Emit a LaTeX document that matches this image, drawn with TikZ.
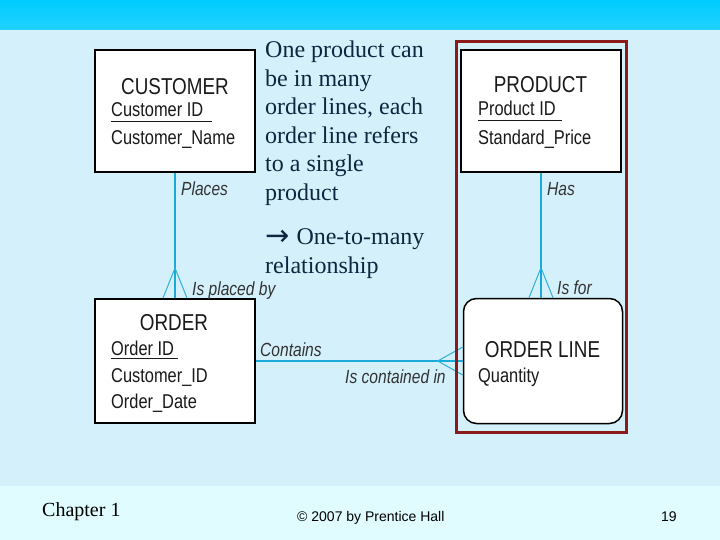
\documentclass[tikz,border=0pt]{standalone}
\usepackage{fontspec}
\setmainfont{Liberation Serif}
\newfontfamily\erdfont[FakeStretch=0.82]{Liberation Sans}
\newfontfamily\arialfont{Liberation Sans}
\newfontfamily\symfont{DejaVu Sans}
\definecolor{bandtop}{HTML}{00CCFF}
\definecolor{bandbot}{HTML}{22D2FF}
\definecolor{mainbg}{HTML}{D4F0FB}
\definecolor{footbg}{HTML}{E0FCFF}
\definecolor{relline}{HTML}{1AAAD8}
\definecolor{crowline}{HTML}{2AB0DA}
\definecolor{framered}{HTML}{8B1A1A}
\definecolor{navy}{HTML}{0F2640}
\definecolor{lbl}{HTML}{333333}
\definecolor{attr}{HTML}{1A1A1A}
\tikzset{
  entity/.style={draw=black, fill=white, line width=2pt, minimum width=160pt, inner sep=0pt},
  title/.style={anchor=base, inner sep=0pt, text=attr, font=\erdfont\fontsize{23}{23}\selectfont},
  attrib/.style={anchor=base west, inner sep=0pt, text=attr, font=\erdfont\fontsize{20}{20}\selectfont},
  rlabel/.style={anchor=base west, inner sep=0pt, text=lbl, font=\erdfont\itshape\fontsize{19}{19}\selectfont},
  rel/.style={draw=relline, line width=2pt},
  crow/.style={draw=crowline, line width=1pt},
  body/.style={anchor=base west, inner sep=0pt, text=navy, font=\fontsize{24}{28.7}\selectfont},
  pkey/.style={draw=attr, line width=1pt}
}
\begin{document}
\begin{tikzpicture}[x=1pt,y=-1pt]
\useasboundingbox (0,0) rectangle (720,540);
\fill[mainbg] (0,0) rectangle (720,540);
\shade[top color=bandtop,bottom color=bandbot] (0,0) rectangle (720,30);
\fill[footbg] (0,486) rectangle (720,540);

% entities
\node[entity, minimum height=122pt] (cust) at (175,111.5) {};
\node[entity, minimum height=122pt] (prod) at (541,111.5) {};
\node[entity, minimum height=124pt] (ord) at (175,361) {};
\node[entity, line width=1.5pt, minimum width=159pt, minimum height=125pt, rounded corners=13pt] (ol) at (543,361) {};

% entity texts
\node[title] (custT) at (175,95) {CUSTOMER};
\node[attrib] (custA1) at (111,117) {Customer ID};
\draw[pkey] (111,121.5) -- (212,121.5);
\node[attrib] (custA2) at (111,145) {Customer\_Name};

\node[title] (prodT) at (540.5,93) {PRODUCT};
\node[attrib] (prodA1) at (478,116) {Product ID};
\draw[pkey] (478,120.5) -- (562,120.5);
\node[attrib] (prodA2) at (478,145) {Standard\_Price};

\node[title] (ordT) at (174,330) {ORDER};
\node[attrib] (ordA1) at (111,355) {Order ID};
\draw[pkey] (111,358.5) -- (178,358.5);
\node[attrib] (ordA2) at (111,382) {Customer\_ID};
\node[attrib] (ordA3) at (111,408) {Order\_Date};

\node[title] (olT) at (542.5,357) {ORDER LINE};
\node[attrib] (olA1) at (478,382) {Quantity};

% relationships
\draw[rel] (cust.south) -- (ord.north);
\draw[crow] (ord.north) ++(-12,0) -- ++(12,-30) -- ++(12,30);
\draw[rel] (prod.south) -- (prod.south |- ol.north);
\draw[crow] (prod.south |- ol.north) ++(-12,0) -- ++(12,-30) -- ++(12,30);
\draw[rel] (ord.east) -- (ord.east -| ol.west);
\draw[crow] (ol.west) ++(0,-14) -- ++(-25,14) -- ++(25,14);

% relationship labels
\node[rlabel] (l1) at (181,196) {Places};
\node[rlabel] (l2) at (192,295) {Is placed by};
\node[rlabel] (l3) at (547,196) {Has};
\node[rlabel] (l4) at (557,294) {Is for};
\node[rlabel] (l5) at (260,356) {Contains};
\node[rlabel] (l6) at (345,383) {Is contained in};

% highlight frame
\draw[framered, line width=3pt] (456.5,41.5) rectangle (626.5,432.5);

% explanatory text
\node[body] (t1) at (265,57.7) {One product can};
\node[body] (t2) at (265,86.5) {be in many};
\node[body] (t3) at (265,115) {order lines, each};
\node[body] (t4) at (265,143.5) {order line refers};
\node[body] (t5) at (265,172) {to a single};
\node[body] (t6) at (265,200.7) {product};
\node[body] (t7) at (265,244.3) {\raisebox{-1pt}{\symfont\fontsize{29}{29}\selectfont →}\hspace{7pt}One-to-many};
\node[body] (t8) at (265,273) {relationship};

% footer
\node[anchor=base west, inner sep=0pt, font=\fontsize{20}{20}\selectfont] (f1) at (42,516.5) {Chapter 1};
\node[anchor=base west, inner sep=0pt, font=\arialfont\fontsize{14}{14}\selectfont] (f2) at (297,521.5) {© 2007 by Prentice Hall};
\node[anchor=base west, inner sep=0pt, font=\arialfont\fontsize{14}{14}\selectfont] (f3) at (661,521.5) {19};
\end{tikzpicture}
\end{document}
